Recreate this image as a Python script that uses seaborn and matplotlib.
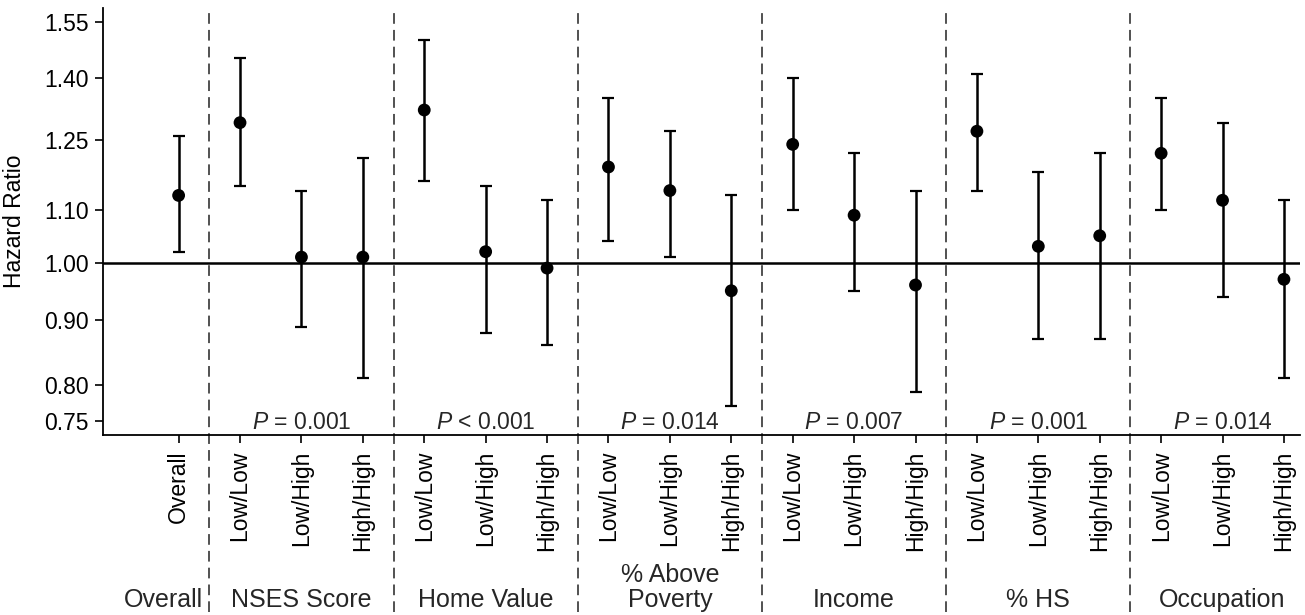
import matplotlib
matplotlib.use("Agg")
import matplotlib.pyplot as plt
import matplotlib.ticker as mticker
import seaborn as sns
import pandas as pd

groups = ["Overall", "NSES Score", "Home Value", "% Above\nPoverty", "Income", "% HS", "Occupation"]
levels = ["Low/Low", "Low/High", "High/High"]
p_text = ["= 0.001", "< 0.001", "= 0.014", "= 0.007", "= 0.001", "= 0.014"]

tick_labels = ["Overall"] + levels * 6
hr = [1.13, 1.29, 1.01, 1.01, 1.32, 1.02, 0.99, 1.19, 1.14, 0.95,
      1.24, 1.09, 0.96, 1.27, 1.03, 1.05, 1.22, 1.12, 0.97]
lo = [1.02, 1.15, 0.89, 0.81, 1.16, 0.88, 0.86, 1.04, 1.01, 0.77,
      1.10, 0.95, 0.79, 1.14, 0.87, 0.87, 1.10, 0.94, 0.81]
hi = [1.26, 1.45, 1.14, 1.21, 1.50, 1.15, 1.12, 1.35, 1.27, 1.13,
      1.40, 1.22, 1.14, 1.41, 1.18, 1.22, 1.35, 1.29, 1.12]
y_ticks = [0.75, 0.80, 0.90, 1.00, 1.10, 1.25, 1.40, 1.55]

df = pd.DataFrame({"pos": range(len(hr)), "label": tick_labels, "hr": hr, "lo": lo, "hi": hi})

sns.set_style("ticks")
plt.rcParams["font.family"] = ["Liberation Sans", "DejaVu Sans"]
plt.rcParams["mathtext.fontset"] = "custom"
plt.rcParams["mathtext.it"] = "Liberation Sans:italic"
plt.rcParams["mathtext.rm"] = "Liberation Sans"

fig = plt.figure(figsize=(13.05, 6.15), dpi=100)
ax = fig.add_axes([0.0789, 0.2927, 0.9172, 0.6951])
ax.set_yscale("log")

# reference line and group separators
ax.axhline(1.0, color="black", lw=1.8, zorder=1)
group_starts = [0, 1, 4, 7, 10, 13, 16]
for s in group_starts[1:]:
    ax.axvline(s - 0.5, ymin=-0.414, ymax=0.994, color="#222222", lw=1.1,
               ls=(0, (7, 4)), clip_on=False, zorder=1)

# CIs + point estimates
ax.errorbar(df["pos"], df["hr"], yerr=[df["hr"] - df["lo"], df["hi"] - df["hr"]],
            fmt="none", ecolor="black", elinewidth=1.8, capsize=4.3, capthick=1.6, zorder=2)
sns.scatterplot(data=df, x="pos", y="hr", color="black", s=85, edgecolor="none",
                ax=ax, zorder=3, legend=False)

ax.set_xlim(-1.232, 18.26)
ax.set_ylim(0.7307, 1.5907)
ax.yaxis.set_major_locator(mticker.FixedLocator(y_ticks))
ax.yaxis.set_minor_locator(mticker.NullLocator())
ax.yaxis.set_major_formatter(mticker.FixedFormatter([f"{v:.2f}" for v in y_ticks]))
ax.set_xticks(df["pos"])
ax.set_xticklabels(df["label"], rotation=90, va="top", ha="center")
ax.tick_params(axis="both", labelsize=16.5, length=6, width=1.2, color="black",
               labelcolor="black", direction="out")
ax.tick_params(axis="x", pad=5)
ax.tick_params(axis="y", pad=4.5)

ax.set_xlabel("")
ax.set_ylabel("Hazard Ratio", fontsize=16.5, color="black")
ax.yaxis.set_label_coords(-0.064, 0.5)

sns.despine(ax=ax)
for side in ["left", "bottom"]:
    ax.spines[side].set_linewidth(1.3)
    ax.spines[side].set_color("black")

# P values and group names
xform = ax.get_xaxis_transform()
for i, s in enumerate(group_starts):
    mid = s - 0.25 if i == 0 else s + 1
    ax.text(mid, -0.414, groups[i], transform=xform, ha="center", va="bottom",
            fontsize=18, linespacing=1.05, clip_on=False)
    if i > 0:
        ax.text(mid, 0.014, "$P$ " + p_text[i - 1], transform=xform, ha="center",
                va="baseline", fontsize=16.5)

fig.savefig("out.png", dpi=100)
